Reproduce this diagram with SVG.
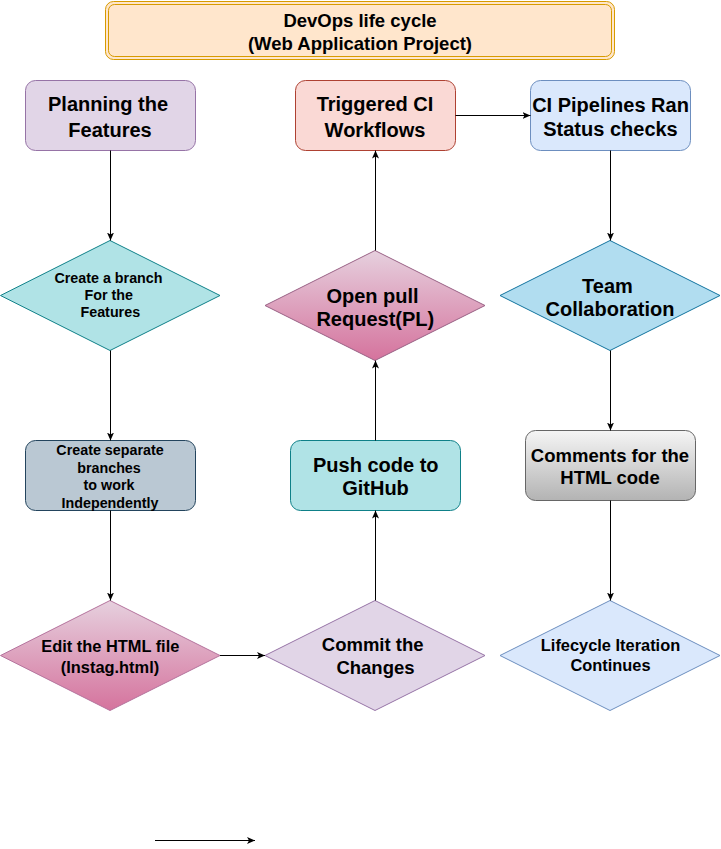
<svg xmlns="http://www.w3.org/2000/svg" width="721" height="849" viewBox="0 0 721 849">
<style>
text{font-family:"Liberation Sans",Arial,Helvetica,sans-serif;font-weight:bold;fill:#000;text-anchor:middle}
.t20{font-size:20px}
.t18{font-size:18.5px}
.t16{font-size:16.4px}
.t14{font-size:14.3px}
.edge{fill:none;stroke:#000;stroke-width:1;marker-end:url(#arr)}
</style>
<defs>
<marker id="arr" markerUnits="userSpaceOnUse" markerWidth="8" markerHeight="8" viewBox="0 0 8 8" refX="8" refY="4" orient="auto">
<path d="M0,0.5 L8,4 L0,7.5 L2,4 z" fill="#000"/>
</marker>
<linearGradient id="pink" x1="0" y1="0" x2="0" y2="1">
<stop offset="0" stop-color="#e6d0de"/>
<stop offset="1" stop-color="#d5739d"/>
</linearGradient>
<linearGradient id="gray" x1="0" y1="0" x2="0" y2="1">
<stop offset="0" stop-color="#f5f5f5"/>
<stop offset="1" stop-color="#b3b3b3"/>
</linearGradient>
</defs>

<g id="title">
<rect x="105.5" y="1.5" width="509" height="58" rx="8" fill="#ffe6cc" stroke="#d79b00"/>
<rect x="108.5" y="4.5" width="503" height="52" rx="6" fill="none" stroke="#d79b00"/>
<text class="t18" x="360" y="26.5">DevOps life cycle</text>
<text class="t18" x="360" y="49.5">(Web Application Project)</text>
</g>

<g id="planning">
<rect x="25.5" y="80.5" width="170" height="70" rx="10" fill="#e1d5e7" stroke="#9673a6"/>
<text class="t20" x="108" y="111">Planning the</text>
<text class="t20" x="110" y="137">Features</text>
</g>

<g id="create-branch">
<polygon points="110,240.5 220,295.5 110,350.5 0.5,295.5" fill="#b0e3e6" stroke="#0e8088"/>
<text class="t14" x="108.5" y="283">Create a branch</text>
<text class="t14" x="108.7" y="300">For the</text>
<text class="t14" x="110.3" y="317">Features</text>
</g>

<g id="separate-branches">
<rect x="25.5" y="440.5" width="170" height="70" rx="10" fill="#bac8d3" stroke="#23445d"/>
<text class="t14" x="110" y="455">Create separate</text>
<text class="t14" x="109" y="472.5">branches</text>
<text class="t14" x="109" y="490">to work</text>
<text class="t14" x="110" y="507.5">Independently</text>
</g>

<g id="edit-html">
<polygon points="110,600.5 220,655.5 110,710.5 0.5,655.5" fill="url(#pink)" stroke="#b5739d"/>
<text class="t16" x="110.3" y="652">Edit the HTML file</text>
<text class="t16" x="110" y="673">(Instag.html)</text>
</g>

<g id="commit">
<polygon points="375,600.5 485,655.5 375,710.5 265,655.5" fill="#e1d5e7" stroke="#9673a6"/>
<text class="t18" x="372.7" y="651">Commit the</text>
<text class="t18" x="375.5" y="673.5">Changes</text>
</g>

<g id="push">
<rect x="290.5" y="440.5" width="170" height="70" rx="10" fill="#b0e3e6" stroke="#0e8088"/>
<text class="t20" x="375.8" y="472">Push code to</text>
<text class="t20" x="375.5" y="495">GitHub</text>
</g>

<g id="pull-request">
<polygon points="375,250.5 485,305.5 375,360.5 265,305.5" fill="url(#pink)" stroke="#996185"/>
<text class="t20" x="372.5" y="302.5">Open pull</text>
<text class="t20" x="375.3" y="326">Request(PL)</text>
</g>

<g id="triggered-ci">
<rect x="295.5" y="80.5" width="160" height="70" rx="10" fill="#fad9d5" stroke="#ae4132"/>
<text class="t20" x="375" y="111">Triggered CI</text>
<text class="t20" x="375" y="137">Workflows</text>
</g>

<g id="ci-pipelines">
<rect x="530.5" y="80.5" width="160" height="70" rx="10" fill="#dae8fc" stroke="#6c8ebf"/>
<text class="t20" x="610.5" y="112">CI Pipelines Ran</text>
<text class="t20" x="610.5" y="136">Status checks</text>
</g>

<g id="team">
<polygon points="610,240.5 720,295.5 610,350.5 500,295.5" fill="#b1ddf0" stroke="#10739e"/>
<text class="t20" x="607.5" y="292.5">Team</text>
<text class="t20" x="610" y="316">Collaboration</text>
</g>

<g id="comments">
<rect x="525.5" y="430.5" width="170" height="70" rx="10" fill="url(#gray)" stroke="#666666"/>
<text class="t18" x="610" y="462">Comments for the</text>
<text class="t18" x="610" y="483.5">HTML code</text>
</g>

<g id="lifecycle">
<polygon points="610,600.5 720,655.5 610,710.5 500,655.5" fill="#dae8fc" stroke="#6c8ebf"/>
<text class="t16" x="610.5" y="651">Lifecycle Iteration</text>
<text class="t16" x="610.5" y="671">Continues</text>
</g>

<g id="connectors">
<path class="edge" d="M110.5,150.5 L110.5,240.5"/>
<path class="edge" d="M110.5,350.5 L110.5,440.5"/>
<path class="edge" d="M110.5,510.5 L110.5,600.5"/>
<path class="edge" d="M220,655.5 L265,655.5"/>
<path class="edge" d="M375.5,600.5 L375.5,510.5"/>
<path class="edge" d="M375.5,440.5 L375.5,360.5"/>
<path class="edge" d="M375.5,250.5 L375.5,150.5"/>
<path class="edge" d="M455.5,115.5 L530.5,115.5"/>
<path class="edge" d="M610.5,150.5 L610.5,240.5"/>
<path class="edge" d="M610.5,350.5 L610.5,430.5"/>
<path class="edge" d="M610.5,500.5 L610.5,600.5"/>
<path class="edge" d="M155,840.5 L255,840.5"/>
</g>
</svg>
